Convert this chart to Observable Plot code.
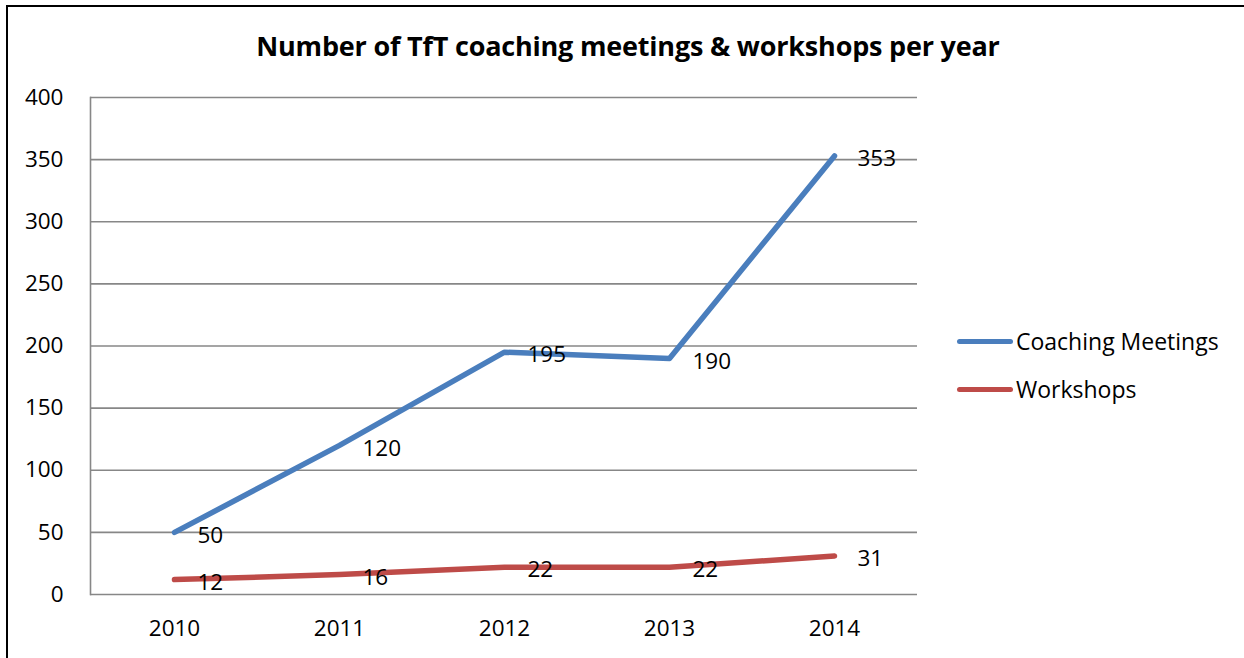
<!DOCTYPE html>
<html>
<head>
<meta charset="utf-8">
<script src="https://cdn.jsdelivr.net/npm/d3@7"></script>
<script src="https://cdn.jsdelivr.net/npm/@observablehq/plot@0.6"></script>
<style>
  html, body { margin: 0; padding: 0; background: #fff; }
  body { width: 1244px; height: 658px; position: relative; overflow: hidden; font-family: "Open Sans", Lato, sans-serif; }
  #border { position: absolute; left: 6px; top: 5px; width: 1250px; height: 670px; border-left: 2px solid #000; border-top: 2px solid #000; box-sizing: border-box; pointer-events: none; }
  #title { position: absolute; left: 0; width: 1256px; top: 28px; text-align: center; font-weight: bold; font-size: 27px; line-height: 36px; color: #000; letter-spacing: -0.2px; }
  #chart { position: absolute; left: 0; top: 0; }
  .leg { position: absolute; left: 957px; height: 30px; display: flex; align-items: center; font-size: 23px; color: #000; }
  .leg .sw { width: 56px; height: 5px; border-radius: 3px; margin-right: 3px; }
</style>
</head>
<body>
<div id="chart"></div>
<div id="title">Number of TfT coaching meetings &amp; workshops per year</div>
<div id="legend"></div>
<div id="border"></div>
<script>
const years = ["2010", "2011", "2012", "2013", "2014"];
const coachingMeetings = [50, 120, 195, 190, 353];
const workshops = [12, 16, 22, 22, 31];
const seriesNames = ["Coaching Meetings", "Workshops"];
const seriesColors = ["#4A7EBD", "#BE4B48"];
const yTicks = [0, 50, 100, 150, 200, 250, 300, 350, 400];

const rows = [];
years.forEach((yr, i) => {
  rows.push({year: yr, value: coachingMeetings[i], series: seriesNames[0]});
  rows.push({year: yr, value: workshops[i], series: seriesNames[1]});
});

const chart = Plot.plot({
  width: 1244,
  height: 658,
  marginLeft: 90,
  marginRight: 327,
  marginTop: 97,
  marginBottom: 64,
  style: {fontFamily: "'Open Sans', Lato, sans-serif", fontSize: "22.5px", color: "#000", background: "transparent"},
  x: {type: "point", domain: years, padding: 0.5},
  y: {domain: [0, 400], ticks: yTicks},
  color: {domain: seriesNames, range: seriesColors},
  marks: [
    Plot.ruleY(yTicks, {stroke: "#878787", strokeWidth: 1.6}),
    Plot.frame({anchor: "left", stroke: "#878787", strokeWidth: 1.6}),
    Plot.axisY({ticks: yTicks, tickSize: 0, tickPadding: 27, fontSize: 22.5, label: null}),
    Plot.axisX({tickSize: 0, tickPadding: 26, fontSize: 22.5, label: null}),
    Plot.line(rows, {x: "year", y: "value", z: "series", stroke: "series", strokeWidth: 5.5, strokeLinecap: "round", strokeLinejoin: "round"}),
    Plot.text(rows, {x: "year", y: "value", text: d => String(d.value), textAnchor: "start", dx: 23, dy: 3, fontSize: 22.5, fill: "#000"})
  ]
});
document.getElementById("chart").appendChild(chart);

const legend = document.getElementById("legend");
const legendTops = [326, 374];
seriesNames.forEach((name, i) => {
  const item = document.createElement("div");
  item.className = "leg";
  item.style.top = legendTops[i] + "px";
  const sw = document.createElement("div");
  sw.className = "sw";
  sw.style.background = seriesColors[i];
  const label = document.createElement("span");
  label.textContent = name;
  item.appendChild(sw);
  item.appendChild(label);
  legend.appendChild(item);
});
</script>
</body>
</html>
